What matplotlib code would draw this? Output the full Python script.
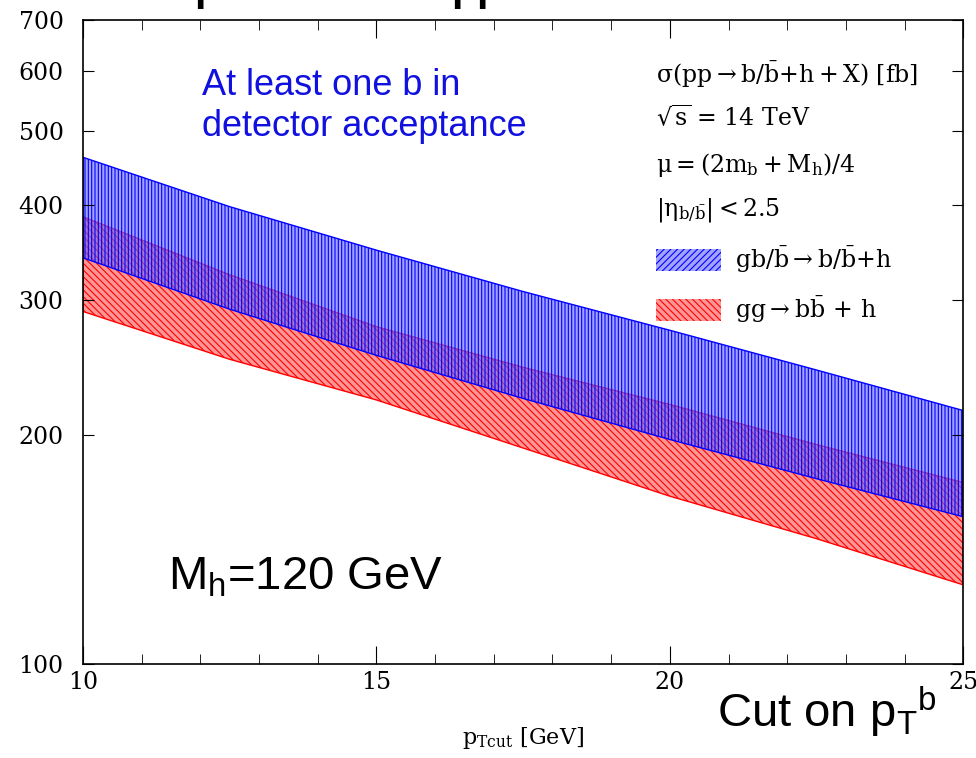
import matplotlib
matplotlib.use('Agg')
from matplotlib import pyplot as plt
from matplotlib.patches import Patch
from matplotlib.ticker import FixedLocator, MultipleLocator, NullLocator

plt.rcParams['hatch.linewidth'] = 0.8
plt.rcParams['mathtext.fontset'] = 'dejavuserif'

# p_T cut values and cross-section bands [fb]
pt_cut = [10, 12.5, 15, 17.5, 20, 22.5, 25]
gb_high = [462, 398, 349, 308, 274, 243, 215]
gb_low = [341, 292, 254, 223, 197, 175, 156]
gg_high = [386, 324, 277, 245, 219, 194, 173]
gg_low = [290, 251, 222, 192, 166, 146, 127]

y_ticks = [100, 200, 300, 400, 500, 600, 700]

blue_face = (0.4, 0.4, 1, 0.6)
red_face = (1, 0.45, 0.45, 0.75)

fig = plt.figure(figsize=(9.76, 7.58), dpi=100)
ax = fig.add_axes([0.085, 0.124, 0.902, 0.850])

# red band first, blue on top so the overlap looks purple
ax.fill_between(pt_cut, gg_low, gg_high, facecolor=red_face,
                edgecolor='red', hatch='\\\\\\\\\\', linewidth=1)
ax.fill_between(pt_cut, gb_low, gb_high, facecolor=blue_face,
                edgecolor='blue', hatch='|||||', linewidth=1)

ax.set_yscale('log')
ax.set_xlim(10, 25)
ax.set_ylim(100, 700)
ax.yaxis.set_major_locator(FixedLocator(y_ticks))
ax.yaxis.set_minor_locator(NullLocator())
ax.set_yticklabels([str(v) for v in y_ticks])
ax.xaxis.set_major_locator(MultipleLocator(5))
ax.xaxis.set_minor_locator(MultipleLocator(1))

ax.tick_params(which='both', direction='in', top=True, right=True,
               labelsize=17)
ax.tick_params(axis='x', pad=5)
ax.tick_params(axis='y', pad=14)
ax.tick_params(which='major', length=13)
ax.tick_params(which='minor', length=7)
ax.tick_params(axis='y', which='major', length=8)
for lab in ax.get_xticklabels() + ax.get_yticklabels():
    lab.set_family('DejaVu Serif')
for s in ax.spines.values():
    s.set_linewidth(1.2)

ax.set_xlabel(r'$\mathregular{p_{Tcut}}$ [GeV]', family='DejaVu Serif',
              fontsize=16, labelpad=22)

# legend texts
serif = dict(family='DejaVu Serif', fontsize=17, transform=ax.transAxes, va='center')
ax.text(0.651, 0.915, r'$\mathregular{\sigma(pp \rightarrow b/\bar{b}{+}h + X)}$ [fb]', **serif)
ax.text(0.651, 0.848, r'$\mathregular{\sqrt{s}}$ = 14 TeV', **serif)
ax.text(0.651, 0.775, r'$\mathregular{\mu = (2m_b + M_h)/4}$', **serif)
ax.text(0.651, 0.705, r'$\mathregular{|\eta_{b/\bar{b}}| < 2.5}$', **serif)

handles = [Patch(facecolor=blue_face, edgecolor='blue', hatch='/////', linewidth=0),
           Patch(facecolor=red_face, edgecolor='red', hatch='\\\\\\\\\\', linewidth=0)]
labels = [r'$\mathregular{gb/\bar{b} \rightarrow b/\bar{b}{+}h}$',
          r'$\mathregular{gg \rightarrow b\bar{b}\, +\, h}$']
ax.legend(handles, labels, loc='center left', bbox_to_anchor=(0.651, 0.589),
          frameon=False, prop={'family': 'DejaVu Serif', 'size': 17},
          borderpad=0, borderaxespad=0,
          handlelength=2.75, handleheight=1.0, labelspacing=0.8, handletextpad=0.6)

ax.text(0.135, 0.866, 'At least one b in\ndetector acceptance', color='#1010e0',
        family='Liberation Sans', fontsize=26, transform=ax.transAxes,
        va='center', linespacing=1.2)
ax.text(0.097, 0.115, r'M$_\mathregular{h}$=120 GeV', family='Liberation Sans',
        fontsize=34, transform=ax.transAxes, va='baseline')
fig.text(0.735, 0.041, r'Cut on p$_\mathregular{T}$$^\mathregular{b}$',
         family='Liberation Sans', fontsize=34, va='baseline')

# title, mostly cropped off the top like in the original slide
fig.text(0.545, 1.0, r'Comparison with pp $\mathregular{\rightarrow}$ b+h cross sections',
         family='Liberation Sans', fontsize=30, weight='bold', ha='center', va='baseline')

fig.savefig('out.png', dpi=100, facecolor='white')
